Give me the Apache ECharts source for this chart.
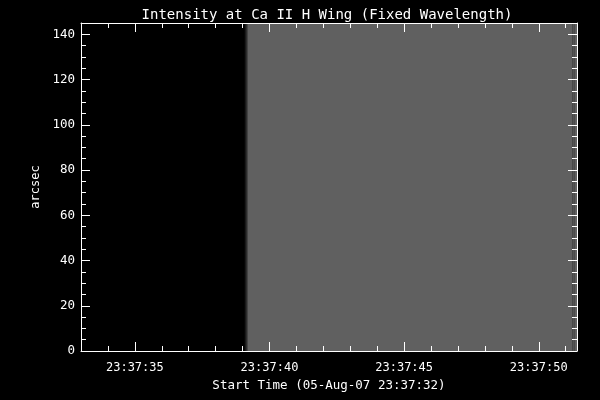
<!DOCTYPE html>
<html>
<head>
<meta charset="utf-8">
<script src="https://cdn.jsdelivr.net/npm/echarts@6/dist/echarts.min.js"></script>
<style>html,body{margin:0;padding:0;background:#000;}#c{width:600px;height:400px;}</style>
</head>
<body>
<div id="c"></div>
<script>
// Data: image columns (seconds after 23:37:00) and normalized intensity
const colStart  = [33.00, 39.08, 39.12, 39.16, 39.20, 51.26, 51.34];
const colEnd    = [39.08, 39.12, 39.16, 39.20, 51.26, 51.34, 51.42];
const intensity = [0.00,  0.25,  0.50,  0.75,  1.00,  0.88,  1.00];
const yRange = [0, 145];
const xRange = [33.0, 51.42];

// Ticks
const xMajorTicks = [35, 40, 45, 50];
const xTickLabels = ['23:37:35', '23:37:40', '23:37:45', '23:37:50'];
const xMinorTicks = [33,34,35,36,37,38,39,40,41,42,43,44,45,46,47,48,49,50,51];
const yMajorTicks = [0, 20, 40, 60, 80, 100, 120, 140];
const yTickLabels = ['0', '20', '40', '60', '80', '100', '120', '140'];
const yMinorTicks = [0,5,10,15,20,25,30,35,40,45,50,55,60,65,70,75,80,85,90,95,100,105,110,115,120,125,130,135,140,145];

const titleText = 'Intensity at Ca II H Wing (Fixed Wavelength)';
const xName = 'Start Time (05-Aug-07 23:37:32)';
const yName = 'arcsec';

const FONT = 'DejaVu Sans Mono';
const cells = colStart.map((s, i) => [s, colEnd[i], intensity[i]]);

function mkX(pos, major, withLabels) {
  return {
    type: 'value', position: pos, min: xRange[0], max: xRange[1], z: 10,
    splitLine: {show: false},
    axisLine: {show: major, onZero: false, lineStyle: {color: '#fff', width: 1}},
    axisTick: {show: true, inside: true, length: major ? 9 : 5,
      customValues: major ? xMajorTicks : xMinorTicks,
      lineStyle: {color: '#fff', width: 1}},
    axisLabel: {show: withLabels, customValues: xMajorTicks, margin: 11,
      color: '#fff', fontFamily: FONT, fontSize: 12,
      formatter: v => xTickLabels[xMajorTicks.indexOf(Math.round(v))] || ''},
    name: withLabels ? xName : '', nameLocation: 'middle', nameGap: 23,
    nameTextStyle: {color: '#fff', fontFamily: FONT, fontSize: 12.5}
  };
}
function mkY(pos, major, withLabels) {
  return {
    type: 'value', position: pos, min: yRange[0], max: yRange[1], z: 10,
    splitLine: {show: false},
    axisLine: {show: major, onZero: false, lineStyle: {color: '#fff', width: 1}},
    axisTick: {show: true, inside: true, length: major ? 9 : 5,
      customValues: major ? yMajorTicks : yMinorTicks,
      lineStyle: {color: '#fff', width: 1}},
    axisLabel: {show: withLabels, customValues: yMajorTicks, margin: 6,
      color: '#fff', fontFamily: FONT, fontSize: 12.5,
      formatter: v => yTickLabels[yMajorTicks.indexOf(Math.round(v))] || ''},
    name: withLabels ? yName : '', nameLocation: 'middle', nameGap: 34,
    nameTextStyle: {color: '#fff', fontFamily: FONT, fontSize: 12}
  };
}

const chart = echarts.init(document.getElementById('c'), null, {renderer: 'canvas'});
chart.setOption({
  backgroundColor: '#000',
  animation: false,
  title: {text: titleText, left: 322, top: 3, textAlign: 'center',
    textStyle: {color: '#fff', fontFamily: FONT, fontSize: 14, fontWeight: 'normal'}},
  grid: {left: 81, right: 23, top: 23, bottom: 49, containLabel: false},
  xAxis: [mkX('bottom', true, true), mkX('bottom', false, false), mkX('top', true, false), mkX('top', false, false)],
  yAxis: [mkY('left', true, true), mkY('left', false, false), mkY('right', true, false), mkY('right', false, false)],
  series: [{
    type: 'custom',
    xAxisIndex: 0, yAxisIndex: 0,
    clip: true,
    z: 1,
    data: cells,
    encode: {x: [0, 1], y: 2},
    renderItem: function (params, api) {
      const p0 = api.coord([api.value(0), yRange[1]]);
      const p1 = api.coord([api.value(1), yRange[0]]);
      const g = Math.round(api.value(2) * 96);
      return {
        type: 'rect',
        shape: {x: p0[0], y: p0[1], width: p1[0] - p0[0], height: p1[1] - p0[1]},
        style: {fill: 'rgb(' + g + ',' + g + ',' + g + ')'}
      };
    }
  }]
});
</script>
</body>
</html>
